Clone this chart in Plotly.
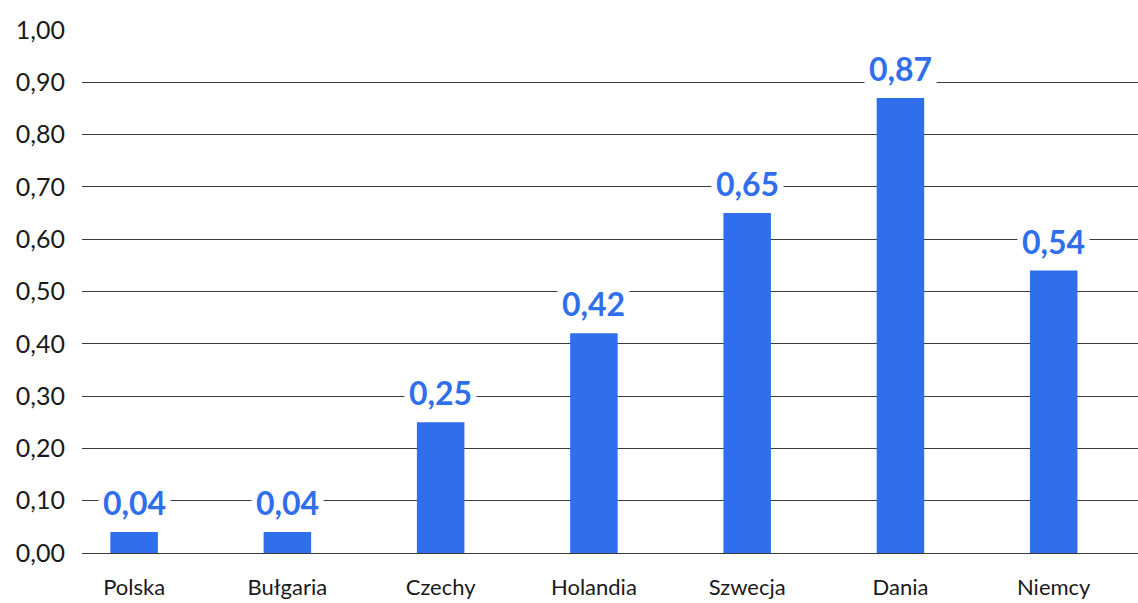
import plotly.graph_objects as go

categories = ["Polska", "Bułgaria", "Czechy", "Holandia", "Szwecja", "Dania", "Niemcy"]
values = [0.04, 0.04, 0.25, 0.42, 0.65, 0.87, 0.54]
value_labels = ["0,04", "0,04", "0,25", "0,42", "0,65", "0,87", "0,54"]
y_ticks = [0, 0.1, 0.2, 0.3, 0.4, 0.5, 0.6, 0.7, 0.8, 0.9, 1.0]

BLUE = "#2F6FEB"
FONT = "Lato"

fig = go.Figure()
fig.add_trace(go.Bar(
    x=categories, y=values, marker=dict(color=BLUE, line=dict(width=0)),
    width=0.31, hoverinfo="skip",
))

for c, v, t in zip(categories, values, value_labels):
    fig.add_annotation(
        x=c, y=v, text=t, showarrow=False, yanchor="bottom", yshift=5,
        font=dict(family=FONT, size=32, color=BLUE, weight="bold"),
        bgcolor="white", borderpad=4,
    )

fig.update_layout(
    width=1138, height=603,
    margin=dict(l=82, r=0, t=30, b=50, autoexpand=False),
    plot_bgcolor="white", paper_bgcolor="white",
    separators=",.",
    showlegend=False,
    font=dict(family=FONT, color="#111111"),
    xaxis=dict(
        range=[-0.34, 6.55], showgrid=False, showline=False, ticks="",
        automargin=False,
        tickfont=dict(family=FONT, size=22, color="#1a1a1a"),
        ticklabelstandoff=19,
    ),
    yaxis=dict(
        range=[0, 1.0], tickvals=y_ticks, tickformat=".2f",
        automargin=False,
        showgrid=True, gridcolor="#3a3a3a", gridwidth=1,
        zeroline=True, zerolinecolor="#3a3a3a", zerolinewidth=1,
        showline=False, ticks="",
        tickfont=dict(family=FONT, size=25, color="#1a1a1a"),
        ticklabelstandoff=16,
    ),
)

fig.write_html("out.html")
